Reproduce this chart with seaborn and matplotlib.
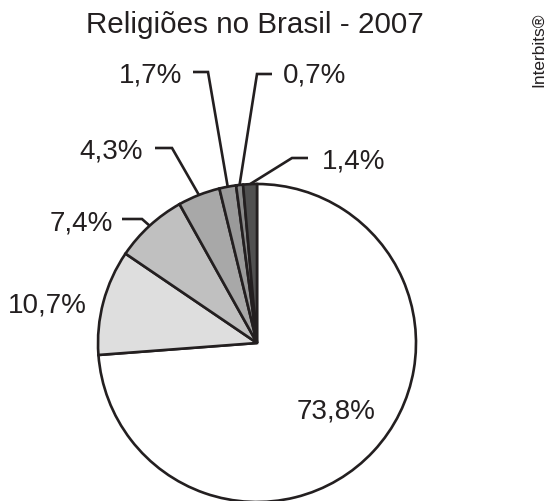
import numpy as np
import matplotlib
matplotlib.use("Agg")
import matplotlib.pyplot as plt
import seaborn as sns

# ---- data ----
title = "Religiões no Brasil - 2007"
values = [73.8, 10.7, 7.4, 4.3, 1.7, 0.7, 1.4]
labels = ["73,8%", "10,7%", "7,4%", "4,3%", "1,7%", "0,7%", "1,4%"]
credit = "Interbits®"

# ---- style ----
colors = ["#ffffff", "#dedede", "#c0c0c0", "#a8a8a8", "#9a9a9a", "#8a8a8a", "#505050"]
ink = "#231f20"

sns.set_theme(style="white")
plt.rcParams["font.family"] = ["Liberation Sans", "DejaVu Sans"]

W, H = 549, 501
CX, CY, R = 257, 343, 159  # pie centre / radius in pixels


def px(x, y):
    """pixel (top-left origin) -> data units of the pie axes"""
    return (x - CX) / R, (CY - y) / R


fig = plt.figure(figsize=(W / 100, H / 100), dpi=100)
fig.patch.set_facecolor("white")
ax = fig.add_axes([(CX - R) / W, (H - CY - R) / H, 2 * R / W, 2 * R / H])

wedges, _ = ax.pie(values, colors=colors, startangle=90, counterclock=False,
                   radius=1, wedgeprops=dict(edgecolor=ink, linewidth=1.9),
                   frame=False)
ax.set_xlim(-1, 1)
ax.set_ylim(-1, 1)
ax.set_aspect("equal")
ax.axis("off")
for w in wedges:
    w.set_clip_on(False)

# label layout: (text x px, baseline y px, ha, leader points in px or None)
layout = [
    (336, 419, "center", None),
    (87, 313, "right", None),
    (113, 230, "right", [(142, 219), (122, 219)]),
    (143, 158, "right", [(172, 148), (155, 148)]),
    (182, 83, "right", [(208, 72), (193, 72)]),
    (283, 83, "left", [(257, 74), (272, 74)]),
    (322, 168, "left", [(292, 158), (308, 158)]),
]

for w, lab, (tx, ty, ha, lead) in zip(wedges, labels, layout):
    x, y = px(tx, ty)
    ax.text(x, y, lab, ha=ha, va="baseline", fontsize=20, color=ink,
            clip_on=False)
    if lead is not None:
        mid = np.deg2rad((w.theta1 + w.theta2) / 2)
        pts = [(np.cos(mid), np.sin(mid))] + [px(*p) for p in lead]
        xs, ys = zip(*pts)
        ax.plot(xs, ys, color=ink, lw=1.9, clip_on=False,
                solid_capstyle="butt", solid_joinstyle="miter")

fig.text(254.5 / W, 1 - 33 / H, title, ha="center", va="baseline",
         fontsize=21.3, color=ink)
fig.text(539 / W, 1 - 50 / H, credit, rotation=90, ha="center", va="center",
         fontsize=12.5, color=ink)

fig.savefig("out.png", dpi=100, facecolor="white")
